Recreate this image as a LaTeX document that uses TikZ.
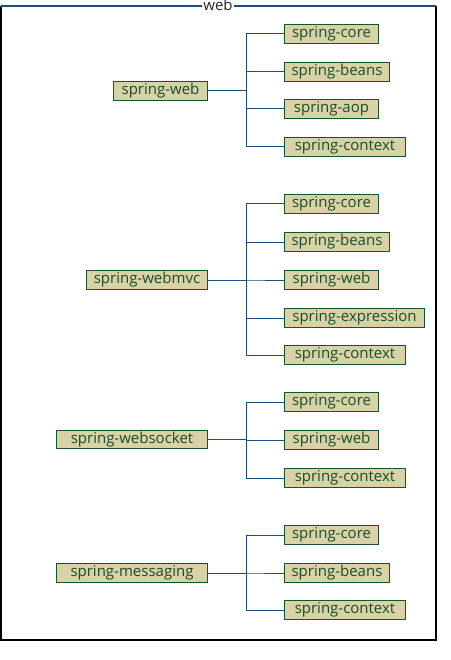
\documentclass[tikz,border=0pt]{standalone}
\usepackage{fontspec}
\setmainfont{Open Sans}
\definecolor{boxfill}{HTML}{D7D3A6}
\definecolor{boxline}{HTML}{1E4F2E}
\definecolor{boxtext}{HTML}{1D4B2A}
\definecolor{connc}{HTML}{1F4E79}
\begin{document}
\begin{tikzpicture}[x=1pt,y=-1pt,
  mbox/.style={draw=boxline,fill=boxfill,text=boxtext,line width=1pt,
    minimum height=18.5pt,inner sep=0pt,font=\fontsize{15}{17}\selectfont},
  par/.style={mbox,anchor=east},
  kid/.style={mbox,anchor=west},
  conn/.style={draw=connc,line width=1pt},
  frame/.style={line width=1.2pt}]
\useasboundingbox (0,0) rectangle (450,660);
% frame
\draw[frame,black] (1,6) -- (1,640) -- (436,640) -- (436,6);
\draw[frame,connc] (1,6) -- (436,6);
\node[fill=white,inner xsep=1pt,inner ysep=0pt,text=black!85,font=\fontsize{15}{17}\selectfont] (title) at (218,5) {web};
% group 1
\node[par,minimum width=94pt] (w) at (208,91) {spring-web};
\node[kid,minimum width=94pt] (w1) at (284,34) {spring-core};
\node[kid,minimum width=105pt] (w2) at (284,72) {spring-beans};
\node[kid,minimum width=94pt] (w3) at (284,109) {spring-aop};
\node[kid,minimum width=121pt] (w4) at (284,147) {spring-context};
\foreach \c in {w1,w2,w3,w4} \draw[conn] (w.east) -- ++(38,0) |- (\c.west);
% group 2
\node[par,minimum width=121pt] (m) at (208,280) {spring-webmvc};
\node[kid,minimum width=94pt] (m1) at (284,204) {spring-core};
\node[kid,minimum width=105pt] (m2) at (284,242) {spring-beans};
\node[kid,minimum width=94pt] (m3) at (284,280) {spring-web};
\node[kid,minimum width=140pt] (m4) at (284,318) {spring-expression};
\node[kid,minimum width=121pt] (m5) at (284,355) {spring-context};
\foreach \c in {m1,m2,m3,m4,m5} \draw[conn] (m.east) -- ++(38,0) |- (\c.west);
% group 3
\node[par,minimum width=151pt] (s) at (208,439.5) {spring-websocket};
\node[kid,minimum width=94pt] (s1) at (284,402) {spring-core};
\node[kid,minimum width=94pt] (s2) at (284,440) {spring-web};
\node[kid,minimum width=121pt] (s3) at (284,478) {spring-context};
\foreach \c in {s1,s2,s3} \draw[conn] (s.east) -- ++(38,0) |- (\c.west);
% group 4
\node[par,minimum width=151pt] (g) at (208,573) {spring-messaging};
\node[kid,minimum width=94pt] (g1) at (284,535) {spring-core};
\node[kid,minimum width=105pt] (g2) at (284,573) {spring-beans};
\node[kid,minimum width=121pt] (g3) at (284,610) {spring-context};
\foreach \c in {g1,g2,g3} \draw[conn] (g.east) -- ++(38,0) |- (\c.west);
\end{tikzpicture}
\end{document}
